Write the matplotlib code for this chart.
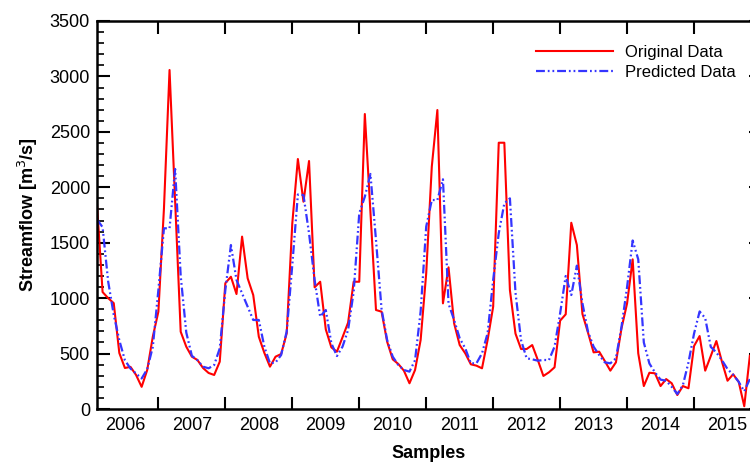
import numpy as np
import matplotlib.pyplot as plt
from matplotlib.ticker import FixedLocator, MultipleLocator

# 月序號 (1 = 2006年2月附近)，觀測與預測流量
original = [1850, 1055, 1000, 955, 505, 370, 380, 307, 200, 352, 652, 878,
            1810, 3058, 1880, 697, 562, 472, 442, 370, 325, 307, 427, 1135,
            1193, 1037, 1555, 1179, 1028, 652, 505, 382, 472, 496, 683, 1675,
            2255, 1870, 2237, 1098, 1148, 719, 556, 517, 647, 779, 1148, 1148,
            2661, 1780, 893, 878, 607, 448, 406, 346, 232, 352, 622, 1224,
            2186, 2697, 953, 1278, 773, 577, 502, 403, 391, 367, 622, 923,
            2402, 2402, 1073, 680, 541, 541, 577, 442, 298, 331, 376, 797,
            854, 1680, 1479, 857, 688, 511, 517, 433, 346, 421, 728, 953,
            1350, 502, 207, 327, 322, 207, 270, 232, 126, 207, 187, 568,
            658, 346, 478, 613, 427, 255, 313, 246, 25, 480]

predicted = [1710, 1640, 1150, 850, 620, 440, 365, 320, 275, 360, 560, 1073,
             1630, 1630, 2165, 1200, 690, 480, 440, 382, 367, 397, 547, 1073,
             1479, 1164, 1043, 923, 803, 803, 560, 412, 420, 487, 700, 1300,
             1935, 1930, 1585, 1164, 833, 893, 593, 478, 562, 713, 1058, 1765,
             1915, 2120, 1524, 899, 622, 472, 397, 352, 337, 440, 880, 1645,
             1885, 1885, 2072, 950, 803, 638, 547, 412, 412, 502, 683, 1164,
             1585, 1855, 1900, 1050, 620, 457, 448, 436, 442, 442, 562, 863,
             1200, 1028, 1293, 953, 697, 562, 487, 421, 412, 457, 742, 1100,
             1520, 1350, 600, 410, 330, 265, 255, 200, 135, 215, 420, 680,
             880, 820, 560, 510, 440, 360, 310, 245, 160, 270]

years = ['2006', '2007', '2008', '2009', '2010', '2011', '2012', '2013', '2014', '2015']

months = np.arange(1, len(original) + 1)

plt.rcParams['font.family'] = ['Liberation Sans', 'DejaVu Sans']

fig = plt.figure(figsize=(7.5, 4.63), dpi=100)
ax = fig.add_axes([97 / 750, 54 / 463, 664 / 750, 388 / 463])

ax.plot(months, original, color='#ff0000', lw=1.5, label='Original Data')
ax.plot(months, predicted, color='#3535ff', lw=1.6,
        linestyle=(0, (4, 1.3, 0.8, 1.3, 0.8, 1.3)), label='Predicted Data')

ax.set_xlim(1, 120)
ax.set_ylim(0, 3500)

# 年份邊界為主刻度，年份標籤放在次刻度 (年中)
ax.xaxis.set_major_locator(FixedLocator(np.arange(12, 120, 12)))
ax.xaxis.set_minor_locator(FixedLocator(np.arange(6, 120, 12)))
ax.set_xticklabels([], minor=False)
ax.set_xticklabels(years, minor=True)
ax.tick_params(axis='x', which='major', direction='in', length=9, width=1.5,
               top=True, bottom=True)
ax.tick_params(axis='x', which='minor', length=0, pad=6, labelsize=13)

ax.yaxis.set_major_locator(MultipleLocator(500))
ax.yaxis.set_minor_locator(MultipleLocator(100))
ax.tick_params(axis='y', which='major', direction='in', length=9, width=1.5,
               left=True, right=True, labelsize=13, pad=5)
ax.tick_params(axis='y', which='minor', direction='in', length=5, width=1.2,
               left=True, right=True)

for s in ax.spines.values():
    s.set_linewidth(1.8)

ax.set_xlabel('Samples', fontsize=13, fontweight='bold', labelpad=8)
ax.set_ylabel('Streamflow [m$^3$/s]', fontsize=13, fontweight='bold', labelpad=7)

ax.legend(loc='upper right', bbox_to_anchor=(742 / 750, 425 / 463),
          bbox_transform=fig.transFigure, frameon=False, fontsize=12,
          handlelength=4.6, handletextpad=0.7, labelspacing=0.3,
          borderaxespad=0)

plt.savefig('out.png', dpi=100)
